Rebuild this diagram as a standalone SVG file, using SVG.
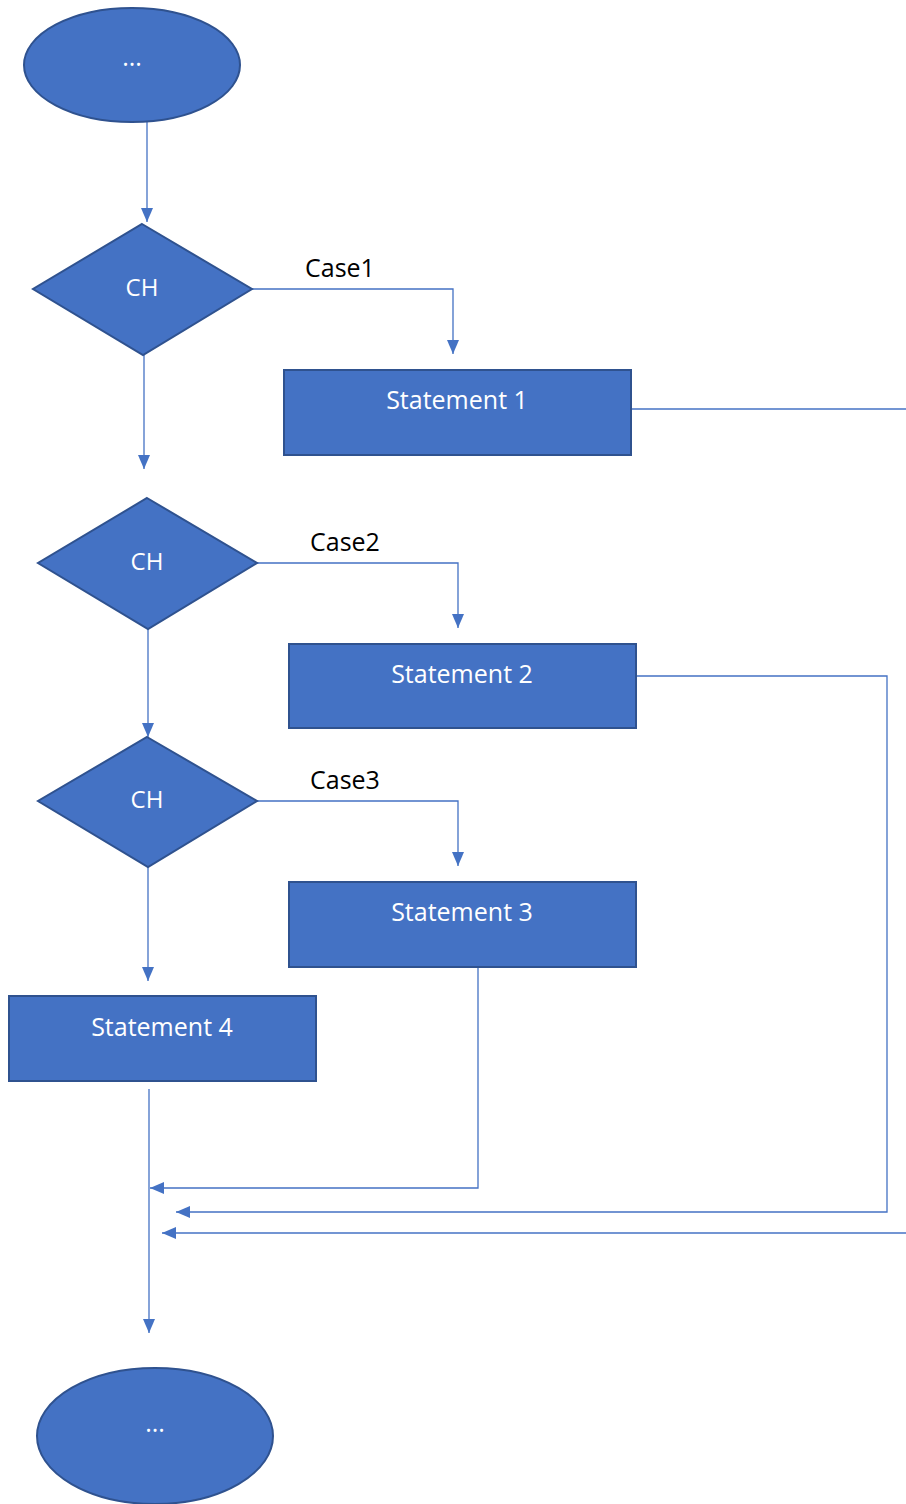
<svg xmlns="http://www.w3.org/2000/svg" width="906" height="1504" viewBox="0 0 906 1504">
<defs>
<marker id="arr" viewBox="0 0 14 12" refX="14" refY="6" markerWidth="14" markerHeight="13" markerUnits="userSpaceOnUse" orient="auto">
<path d="M0,0 L14,6 L0,12 Z" fill="#4472C4"/>
</marker>
<style>
.shape{fill:#4472C4;stroke:#2F528F;stroke-width:2}
.lbl{fill:#ffffff;font-family:"Open Sans","Liberation Sans",sans-serif;font-size:25px;text-anchor:middle}
.ch{font-size:24px}
.case{fill:#000000;font-family:"Open Sans","Liberation Sans",sans-serif;font-size:25px}
.con{fill:none;stroke:#4472C4;stroke-width:1.3}
</style>
</defs>
<rect width="906" height="1504" fill="#ffffff"/>
<g id="connectors">
<path class="con" d="M147,122 V222" marker-end="url(#arr)"/>
<path class="con" d="M252,289 H453 V354" marker-end="url(#arr)"/>
<path class="con" d="M631,409 H906"/>
<path class="con" d="M144,355 V469" marker-end="url(#arr)"/>
<path class="con" d="M257,563 H458 V628" marker-end="url(#arr)"/>
<path class="con" d="M636,676 H887 V1212 H176" marker-end="url(#arr)"/>
<path class="con" d="M148,629 V737" marker-end="url(#arr)"/>
<path class="con" d="M257,801 H458 V866" marker-end="url(#arr)"/>
<path class="con" d="M478,967 V1188 H150" marker-end="url(#arr)"/>
<path class="con" d="M148,867 V981" marker-end="url(#arr)"/>
<path class="con" d="M149,1089 V1333" marker-end="url(#arr)"/>
<path class="con" d="M906,1233 H162" marker-end="url(#arr)"/>
<text class="case" x="305" y="277">Case1</text>
<text class="case" x="310" y="551">Case2</text>
<text class="case" x="310" y="789">Case3</text>
</g>
<g id="start">
<ellipse class="shape" cx="132" cy="65" rx="108" ry="57"/>
<text class="lbl" x="132" y="66">...</text>
</g>
<g id="ch1">
<polygon class="shape" points="142,224 252,289 143,355 33,289"/>
<text class="lbl ch" x="142" y="296">CH</text>
</g>
<g id="s1">
<rect class="shape" x="284" y="370" width="347" height="85"/>
<text class="lbl" x="457" y="409">Statement 1</text>
</g>
<g id="ch2">
<polygon class="shape" points="147,498 257,563 148,629 38,563"/>
<text class="lbl ch" x="147" y="570">CH</text>
</g>
<g id="s2">
<rect class="shape" x="289" y="644" width="347" height="84"/>
<text class="lbl" x="462" y="683">Statement 2</text>
</g>
<g id="ch3">
<polygon class="shape" points="147,737 257,801 148,867 38,801"/>
<text class="lbl ch" x="147" y="808">CH</text>
</g>
<g id="s3">
<rect class="shape" x="289" y="882" width="347" height="85"/>
<text class="lbl" x="462" y="921">Statement 3</text>
</g>
<g id="s4">
<rect class="shape" x="9" y="996" width="307" height="85"/>
<text class="lbl" x="162" y="1036">Statement 4</text>
</g>
<g id="end">
<ellipse class="shape" cx="155" cy="1436" rx="118" ry="68"/>
<text class="lbl" x="155" y="1432">...</text>
</g>
</svg>
